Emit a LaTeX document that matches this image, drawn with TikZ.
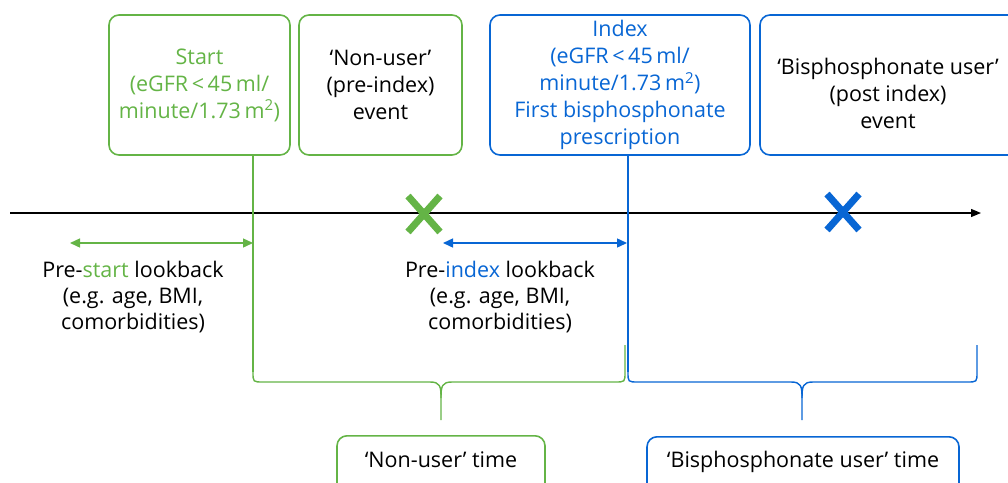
\documentclass[tikz,border=0pt]{standalone}
\usepackage{fontspec}
\setmainfont{Open Sans}
\usetikzlibrary{arrows.meta}
\definecolor{grn}{RGB}{100,180,70}
\definecolor{blu}{RGB}{8,102,212}
\tikzset{
  box/.style={draw, line width=1.6pt, rounded corners=10pt, align=center, inner sep=0pt, font=\fontsize{21.5}{27}\selectfont},
  lbl/.style={align=center, inner sep=0pt, font=\fontsize{21.5}{26}\selectfont},
  gline/.style={draw=grn, line width=1.4pt},
  bline/.style={draw=blu, line width=1.4pt},
  xmark/.style={line width=7pt},
}
\begin{document}
\begin{tikzpicture}[x=1pt,y=-1pt]
\useasboundingbox (0,0) rectangle (1008,482);
\clip (0,0) rectangle (1008,482);
% top boxes
\node[box, draw=grn, text=grn, minimum width=181pt, minimum height=140pt] (start) at (199.5,85) {Start\\(eGFR\,<\,45\,ml/\\minute/1.73\,m\textsuperscript{2})};
\node[box, draw=grn, minimum width=163pt, minimum height=140pt] (nonev) at (380.5,85) {‘Non-user’\\(pre-index)\\event};
\node[box, draw=blu, text=blu, minimum width=260pt, minimum height=140pt] (index) at (620,85) {Index\\(eGFR\,<\,45\,ml/\\minute/1.73\,m\textsuperscript{2})\\First bisphosphonate\\prescription};
\node[box, draw=blu, minimum width=262pt, minimum height=140pt] (usev) at (891,85) {};
\node[lbl, font=\fontsize{21.5}{27}\selectfont] (usevt) at (888,93) {‘Bisphosphonate user’\\(post index)\\event};
% axis
\coordinate (a0) at (10,213);
\coordinate (a1) at (981,213);
\draw[line width=1.3pt, -{Triangle[length=10pt,width=8pt]}] (a0) -- (a1);
% vertical markers
\coordinate (gl) at (253,372);
\coordinate (bl) at (628,372);
\draw[gline] (start.south -| gl) -- (gl);
\draw[bline] (index.south -| bl) -- (bl);
% crosses
\coordinate (gx) at (424,214);
\coordinate (bx) at (843,212);
\draw[grn, xmark] ([shift={(-16,-18)}]gx) -- ([shift={(16,18)}]gx) ([shift={(16,-18)}]gx) -- ([shift={(-16,18)}]gx);
\draw[blu, xmark] ([shift={(-16,-18)}]bx) -- ([shift={(16,18)}]bx) ([shift={(16,-18)}]bx) -- ([shift={(-16,18)}]bx);
% lookback arrows
\coordinate (ga0) at (70,243);
\coordinate (ga1) at (253,243);
\coordinate (ba0) at (443,243);
\coordinate (ba1) at (627,243);
\draw[grn, line width=1.4pt, {Triangle[length=10pt,width=9pt]}-{Triangle[length=10pt,width=9pt]}] (ga0) -- (ga1);
\draw[blu, line width=1.4pt, {Triangle[length=10pt,width=9pt]}-{Triangle[length=10pt,width=9pt]}] (ba0) -- (ba1);
\node[lbl] (prestart) at (133,297) {Pre-{\color{grn}start} lookback\\(e.g. age, BMI,\\comorbidities)};
\node[lbl] (preindex) at (500,297) {Pre-{\color{blu}index} lookback\\(e.g. age, BMI,\\comorbidities)};
% braces
\coordinate (gt) at (441,420);
\coordinate (gr) at (625,345);
\coordinate (bt) at (802,420);
\coordinate (br) at (977,345);
\draw[gline] (gl) .. controls (253,382) .. (263,382) -- (430,382)
  .. controls (440,382) and (441,386) .. (441,398) -- (gt);
\draw[gline] (441,398) .. controls (441,386) and (442,382) .. (452,382) -- (615,382) .. controls (625,382) .. (625,372) -- (gr);
\draw[bline] (bl) .. controls (628,382) .. (638,382) -- (791,382)
  .. controls (801,382) and (802,386) .. (802,398) -- (bt);
\draw[bline] (802,398) .. controls (802,386) and (803,382) .. (813,382) -- (967,382) .. controls (977,382) .. (977,372) -- (br);
% bottom boxes
\node[box, draw=grn, minimum width=208pt, minimum height=60pt, anchor=north] (nutime) at (441,435) {};
\node[lbl, anchor=base] (nutimet) at (441,467) {‘Non-user’ time};
\node[box, draw=blu, minimum width=312pt, minimum height=60pt, anchor=north] (butime) at (803,436) {};
\node[lbl, anchor=base] (butimet) at (803,467) {‘Bisphosphonate user’ time};
\end{tikzpicture}
\end{document}
